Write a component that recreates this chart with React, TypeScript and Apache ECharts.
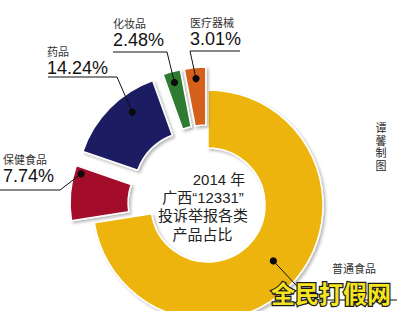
import React, { useEffect, useRef } from "react";
import * as echarts from "echarts";

// ---- data ----
const categories = ["普通食品", "保健食品", "药品", "化妆品", "医疗器械"];
const shares = [72.53, 7.74, 14.24, 2.48, 3.01];
const pulledOut = [false, true, true, true, true];
const showValue = [false, true, true, true, true];
const centerLines = ["2014 年", "广西“12331”", "投诉举报各类", "产品占比"];
const creditText = "谭\n馨\n制\n图";
const watermarkText = "全民打假网";

// ---- styles / layout ----
const colors = ["#ecb408", "#a3102a", "#1d1f63", "#2f7c33", "#d5611b"];
const W = 410;
const H = 311;
const CX = 208;
const CY = 205;
const R_IN = 57;
const R_OUT = 115;
const PULL = 23;
const START = 90;
// where the marker dot sits inside each slice: fraction along the slice, radius from its centre
const dotFrac = [0.5, 0.88, 0.65, 0.5, 0.5];
const dotRad = [86, 108, 97, 104, 104];
const FONT = "Liberation Sans, Noto Sans CJK SC, sans-serif";
// label placement: left x, top y, underline y, underline near x, underline far x
const labelBoxes = [
  { x: 332, y: 262, lineY: 300, nearX: 310, farX: 397 },
  { x: 3, y: 153, lineY: 190, nearX: 60, farX: 0 },
  { x: 47, y: 45, lineY: 77, nearX: 117, farX: 48 },
  { x: 113, y: 17, lineY: 52, nearX: 167, farX: 113 },
  { x: 190, y: 16, lineY: 51, nearX: 190, farX: 240 },
];
const centerPos = [
  { x: 219, y: 179 },
  { x: 203, y: 197 },
  { x: 203, y: 215 },
  { x: 202.5, y: 234 },
];

export default function App() {
  const ref = useRef<HTMLDivElement>(null);
  useEffect(() => {
    const chart = echarts.init(ref.current!, null, { renderer: "svg" });
    const total = shares.reduce((a, b) => a + b, 0);
    const mids: number[] = [];
    const dotAngles: number[] = [];
    let cum = 0;
    shares.forEach((v, i) => {
      mids.push(((START - ((cum + v / 2) / total) * 360) * Math.PI) / 180);
      dotAngles.push(((START - ((cum + v * dotFrac[i]) / total) * 360) * Math.PI) / 180);
      cum += v;
    });
    const dot = (i: number) => {
      const off = pulledOut[i] ? PULL : 0;
      const ox = CX + off * Math.cos(mids[i]);
      const oy = CY - off * Math.sin(mids[i]);
      return [ox + dotRad[i] * Math.cos(dotAngles[i]), oy - dotRad[i] * Math.sin(dotAngles[i])];
    };

    const graphics: any[] = [];
    categories.forEach((_, i) => {
      const [x, y] = dot(i);
      graphics.push({
        type: "circle",
        z: 50,
        silent: true,
        shape: { cx: x, cy: y, r: 3.6 },
        style: { fill: "#0a0a0a" },
      });
    });
    centerLines.forEach((t, i) => {
      graphics.push({
        type: "text",
        z: 50,
        x: centerPos[i].x,
        y: centerPos[i].y,
        style: {
          text: `{c|${t}}`,
          rich: { c: { fontSize: 15, fontFamily: FONT, color: "#222" } },
          fontSize: 15,
          fontFamily: FONT,
          fill: "#222",
          textAlign: "center",
          textVerticalAlign: "middle",
        },
      });
    });
    graphics.push({
      type: "text",
      z: 50,
      x: 381,
      y: 122,
      style: {
        text: creditText,
        fontSize: 11,
        fontFamily: FONT,
        lineHeight: 12.5,
        fill: "#222",
        textAlign: "center",
        textVerticalAlign: "top",
      },
    });
    graphics.push({
      type: "text",
      z: 100,
      x: 271,
      y: 280,
      style: {
        text: watermarkText,
        fontSize: 24,
        fontWeight: "bold",
        fontFamily: "Noto Sans CJK SC, sans-serif",
        fill: "#f5e41e",
        stroke: "#1a1a1a",
        lineWidth: 2.5,
        textAlign: "left",
        textVerticalAlign: "top",
      },
    });

    chart.setOption({
      animation: false,
      graphic: { elements: graphics },
      series: [
        {
          type: "pie",
          center: [CX, CY],
          radius: [R_IN, R_OUT],
          startAngle: START,
          clockwise: true,
          selectedMode: "multiple",
          selectedOffset: PULL,
          avoidLabelOverlap: false,
          silent: true,
          label: { show: false },
          labelLine: { show: false },
          itemStyle: {
            borderColor: "#ffffff",
            borderWidth: 1.5,
            shadowBlur: 3,
            shadowOffsetX: 2,
            shadowOffsetY: 2,
            shadowColor: "rgba(0,0,0,0.28)",
          },
          data: categories.map((name, i) => ({
            name,
            value: shares[i],
            selected: pulledOut[i],
            itemStyle: { color: colors[i] },
          })),
        },
        {
          type: "pie",
          center: [CX, CY],
          radius: [R_IN, R_OUT],
          startAngle: START,
          clockwise: true,
          avoidLabelOverlap: false,
          silent: true,
          z: 5,
          itemStyle: { color: "rgba(0,0,0,0)", borderWidth: 0 },
          label: {
            show: true,
            position: "outside",
            color: "#111",
            formatter: (p: any) =>
              showValue[p.dataIndex]
                ? `{n|${p.name}}\n{v|${shares[p.dataIndex].toFixed(2)}%}`
                : `{n|${p.name}}`,
            rich: {
              n: { fontSize: 11, lineHeight: 14, color: "#333", fontFamily: FONT },
              v: { fontSize: 18, lineHeight: 18, color: "#111", fontFamily: FONT },
            },
          },
          labelLine: { show: true, lineStyle: { color: "#111", width: 1 } },
          labelLayout: (params: any) => {
            const i = params.dataIndex;
            const b = labelBoxes[i];
            const d = dot(i);
            return {
              x: b.x,
              y: b.y,
              align: "left",
              verticalAlign: "top",
              labelLinePoints: [
                [d[0], d[1]],
                [b.nearX, b.lineY],
                [b.farX, b.lineY],
              ],
            };
          },
          data: categories.map((name, i) => ({ name, value: shares[i] })),
        },
      ],
    });
    return () => chart.dispose();
  }, []);
  return (
    <div
      ref={ref}
      style={{ position: "fixed", left: 0, top: 0, width: W, height: H, background: "#fff" }}
    />
  );
}
